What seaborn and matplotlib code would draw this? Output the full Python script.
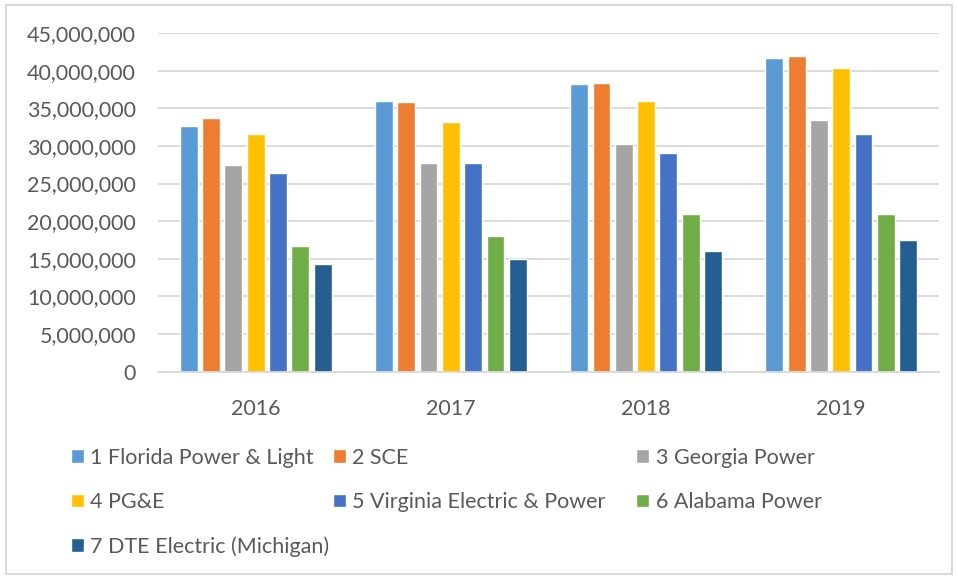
import numpy as np
import pandas as pd
import matplotlib
matplotlib.use('Agg')
import matplotlib.pyplot as plt
import seaborn as sns
from matplotlib.patches import Rectangle
from matplotlib.ticker import FuncFormatter

# данные
years = ['2016', '2017', '2018', '2019']
utilities = ['1 Florida Power & Light', '2 SCE', '3 Georgia Power', '4 PG&E',
             '5 Virginia Electric & Power', '6 Alabama Power', '7 DTE Electric (Michigan)']
fpl = [32_700_000, 35_900_000, 38_200_000, 41_700_000]
sce = [33_700_000, 35_800_000, 38_300_000, 42_000_000]
georgia = [27_400_000, 27_700_000, 30_300_000, 33_500_000]
pge = [31_600_000, 33_200_000, 35_900_000, 40_300_000]
virginia = [26_400_000, 27_700_000, 29_100_000, 31_600_000]
alabama = [16_700_000, 18_000_000, 20_900_000, 20_900_000]
dte = [14_300_000, 15_000_000, 16_100_000, 17_500_000]

colors = ['#5B9BD5', '#ED7D31', '#A5A5A5', '#FFC000', '#4472C4', '#70AD47', '#255E91']
text_color = '#595959'
grid_color = '#D9D9D9'
fs = 15.5

# длинная таблица для seaborn
series = [fpl, sce, georgia, pge, virginia, alabama, dte]
rows = []
for name, vals in zip(utilities, series):
    for y, v in zip(years, vals):
        rows.append({'year': y, 'utility': name, 'value': v})
df = pd.DataFrame(rows)

sns.set_style('white')
plt.rcParams['font.family'] = ['Lato', 'DejaVu Sans']

fig = plt.figure(figsize=(9.58, 5.79), dpi=100)
ax = fig.add_axes([0.165, 0.358, 0.815, 0.585])

sns.barplot(data=df, x='year', y='value', hue='utility', hue_order=utilities,
            palette=colors, width=0.8, gap=0.2, saturation=1, ax=ax, legend=True)

# оси и сетка
ax.set_ylim(0, 45_000_000)
ax.set_yticks(np.arange(0, 45_000_001, 5_000_000))
ax.yaxis.set_major_formatter(FuncFormatter(lambda v, p: f'{int(v):,}'))
ax.grid(axis='y', color=grid_color, linewidth=1.3)
ax.set_axisbelow(True)
for s in ['top', 'right', 'left']:
    ax.spines[s].set_visible(False)
ax.spines['bottom'].set_color(grid_color)
ax.spines['bottom'].set_linewidth(1.3)
ax.tick_params(axis='both', length=0, labelsize=fs, colors=text_color)
ax.tick_params(axis='x', pad=20)
ax.tick_params(axis='y', pad=16)
ax.set_xlabel('')
ax.set_ylabel('')

# легенда: три колонки отдельными легендами, как в Excel
handles, labels = ax.get_legend_handles_labels()
ax.get_legend().remove()
columns = [([0, 3, 6], 0.063), ([1, 4], 0.336), ([2, 5], 0.653)]
for idx, x0 in columns:
    leg = fig.legend([handles[i] for i in idx], [labels[i] for i in idx],
                     loc='upper left', bbox_to_anchor=(x0, 0.245), frameon=False,
                     fontsize=fs, labelcolor=text_color, handlelength=0.6,
                     handleheight=0.6, handletextpad=0.3, labelspacing=1.12,
                     borderpad=0)

# рамка диаграммы
fig.patches.append(Rectangle((0.006, 0.008), 0.988, 0.984, transform=fig.transFigure,
                             fill=False, edgecolor=grid_color, linewidth=1.5))

fig.savefig('out.png', dpi=100)
